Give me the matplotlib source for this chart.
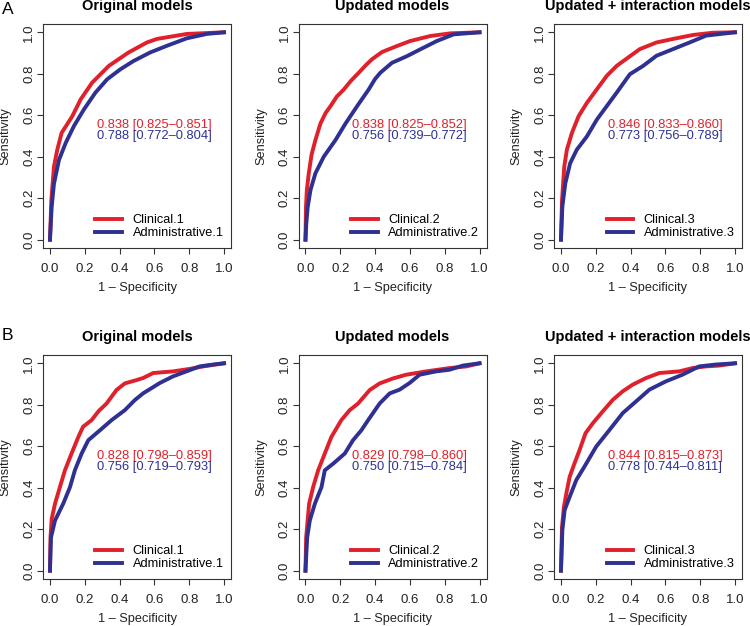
import matplotlib
matplotlib.use("Agg")
import matplotlib.pyplot as plt

plt.rcParams["font.family"] = ["Liberation Sans", "DejaVu Sans"]

RED = "#e0202a"
BLUE = "#2e3192"

titles = ["Original models", "Updated models", "Updated + interaction models"]
row_labels = ["A", "B"]

# row A, ROC curves (1 - specificity, sensitivity)
a1_clin_fpr = [0, .008, .023, .042, .067, .128, .176, .242, .338, .452, .557, .615, .786, 1]
a1_clin_tpr = [0, .191, .353, .434, .515, .595, .676, .757, .838, .903, .951, .968, .992, 1]
a1_admin_fpr = [0, .01, .023, .052, .09, .137, .195, .261, .328, .405, .481, .576, .672, .786, .9, 1]
a1_admin_tpr = [0, .16, .27, .385, .466, .547, .628, .709, .773, .822, .862, .903, .935, .971, .992, 1]

a2_clin_fpr = [0, .003, .008, .019, .035, .057, .086, .115, .143, .18, .22, .26, .306, .345, .382, .44, .526, .602, .717, .832, 1]
a2_clin_tpr = [0, .158, .24, .32, .41, .48, .56, .61, .643, .69, .724, .765, .805, .84, .87, .905, .934, .958, .982, .995, 1]
a2_admin_fpr = [0, .005, .013, .029, .057, .105, .172, .23, .296, .363, .40, .43, .497, .583, .66, .755, .851, 1]
a2_admin_tpr = [0, .08, .158, .24, .32, .40, .48, .56, .643, .724, .775, .805, .853, .885, .918, .958, .99, 1]

a3_clin_fpr = [0, .006, .019, .034, .063, .101, .149, .206, .263, .32, .387, .453, .549, .644, .758, .872, 1]
a3_clin_tpr = [0, .19, .353, .434, .515, .595, .66, .725, .79, .838, .879, .919, .951, .968, .987, .998, 1]
a3_admin_fpr = [0, .008, .025, .053, .091, .149, .206, .263, .32, .396, .472, .549, .644, .739, .834, 1]
a3_admin_tpr = [0, .159, .272, .369, .434, .498, .579, .644, .709, .798, .838, .887, .919, .951, .984, 1]

# row B
b1_clin_fpr = [0, .003, .01, .029, .057, .086, .124, .163, .19, .239, .28, .325, .382, .43, .497, .535, .593, .707, .803, .88, 1]
b1_clin_tpr = [0, .161, .25, .323, .403, .484, .565, .645, .694, .726, .77, .806, .871, .903, .919, .929, .953, .961, .973, .985, 1]
b1_admin_fpr = [0, .006, .029, .076, .115, .143, .182, .22, .287, .354, .43, .488, .535, .631, .707, .784, .86, .937, 1]
b1_admin_tpr = [0, .161, .242, .323, .403, .484, .565, .629, .677, .726, .774, .823, .855, .905, .937, .961, .985, .994, 1]

b2_clin_fpr = [0, .004, .021, .044, .073, .111, .149, .206, .254, .302, .369, .426, .503, .579, .694, .828, .924, 1]
b2_clin_tpr = [0, .161, .323, .403, .484, .565, .645, .726, .774, .806, .871, .903, .927, .945, .961, .977, .985, 1]
b2_admin_fpr = [0, .01, .025, .054, .092, .111, .159, .226, .273, .321, .36, .426, .484, .541, .598, .656, .751, .828, .904, 1]
b2_admin_tpr = [0, .161, .242, .323, .403, .484, .516, .565, .629, .677, .726, .806, .855, .873, .905, .945, .961, .969, .989, 1]

b3_clin_fpr = [0, .006, .017, .031, .05, .078, .107, .141, .183, .24, .298, .355, .412, .489, .565, .679, .756, .832, .908, .985, 1]
b3_clin_tpr = [0, .211, .308, .373, .453, .518, .582, .663, .711, .768, .824, .865, .897, .929, .953, .961, .977, .985, .989, .998, 1]
b3_admin_fpr = [0, .008, .021, .05, .088, .135, .202, .279, .355, .431, .508, .603, .698, .794, .889, 1]
b3_admin_tpr = [0, .195, .292, .356, .437, .502, .598, .679, .76, .816, .873, .913, .945, .985, .994, 1]

clin_auc = ["0.838 [0.825\u20130.851]", "0.838 [0.825\u20130.852]", "0.846 [0.833\u20130.860]",
            "0.828 [0.798\u20130.859]", "0.829 [0.798\u20130.860]", "0.844 [0.815\u20130.873]"]
admin_auc = ["0.788 [0.772\u20130.804]", "0.756 [0.739\u20130.772]", "0.773 [0.756\u20130.789]",
             "0.756 [0.719\u20130.793]", "0.750 [0.715\u20130.784]", "0.778 [0.744\u20130.811]"]

curves = [
    (a1_clin_fpr, a1_clin_tpr, a1_admin_fpr, a1_admin_tpr),
    (a2_clin_fpr, a2_clin_tpr, a2_admin_fpr, a2_admin_tpr),
    (a3_clin_fpr, a3_clin_tpr, a3_admin_fpr, a3_admin_tpr),
    (b1_clin_fpr, b1_clin_tpr, b1_admin_fpr, b1_admin_tpr),
    (b2_clin_fpr, b2_clin_tpr, b2_admin_fpr, b2_admin_tpr),
    (b3_clin_fpr, b3_clin_tpr, b3_admin_fpr, b3_admin_tpr),
]

W, H = 750, 626
fig = plt.figure(figsize=(7.5, 6.26), dpi=100)

lefts = [43, 298.5, 554]
bottoms = [248, 579]
ax_w, ax_h = 188, 224
ticks = [0.0, 0.2, 0.4, 0.6, 0.8, 1.0]
tick_labels = ["0.0", "0.2", "0.4", "0.6", "0.8", "1.0"]

for i, (cf, ct, af, at) in enumerate(curves):
    row, col = divmod(i, 3)
    ax = fig.add_axes([lefts[col] / W, (H - bottoms[row]) / H, ax_w / W, ax_h / H])
    ax.plot(cf, ct, color=RED, lw=2.8, label=f"Clinical.{col + 1}", solid_joinstyle="round")
    ax.plot(af, at, color=BLUE, lw=2.8, label=f"Administrative.{col + 1}", solid_joinstyle="round")

    ax.set_xlim(-0.04, 1.04)
    ax.set_ylim(-0.04, 1.04)
    ax.set_xticks(ticks)
    ax.set_xticklabels(tick_labels, fontsize=9.5)
    ax.set_yticks(ticks)
    ax.set_yticklabels(tick_labels, fontsize=9.5, rotation=90, va="center")
    ax.tick_params(axis="x", length=4, width=0.8, pad=6.5, colors="#333333", labelcolor="#222222")
    ax.tick_params(axis="y", length=4, width=0.8, pad=1.5, colors="#333333", labelcolor="#222222")
    for sp in ax.spines.values():
        sp.set_linewidth(0.8)
        sp.set_color("#333333")

    ax.set_xlabel("1 \u2013 Specificity", fontsize=9.2, color="#222222")
    ax.xaxis.set_label_coords(0.5, -0.15)
    ax.set_ylabel("Sensitivity", fontsize=9.2, color="#222222")
    ax.yaxis.set_label_coords(-0.168, 0.5)
    ax.set_title(titles[col], fontsize=10.5, fontweight="bold", pad=10)

    ax.text(0.27, 0.555, clin_auc[i], color=RED, fontsize=9.3, ha="left", va="center")
    ax.text(0.27, 0.50, admin_auc[i], color=BLUE, fontsize=9.3, ha="left", va="center")

    ax.legend(loc="lower right", bbox_to_anchor=(0.96, 0.04), frameon=False, fontsize=9.2,
              handlelength=2.1, handletextpad=0.8, labelspacing=0.05, borderpad=0, borderaxespad=0)

fig.text(2 / W, 1 - 9 / H, row_labels[0], fontsize=12.5, ha="left", va="center")
fig.text(2 / W, 1 - 335.5 / H, row_labels[1], fontsize=12.5, ha="left", va="center")

fig.savefig("out.png", dpi=100)
